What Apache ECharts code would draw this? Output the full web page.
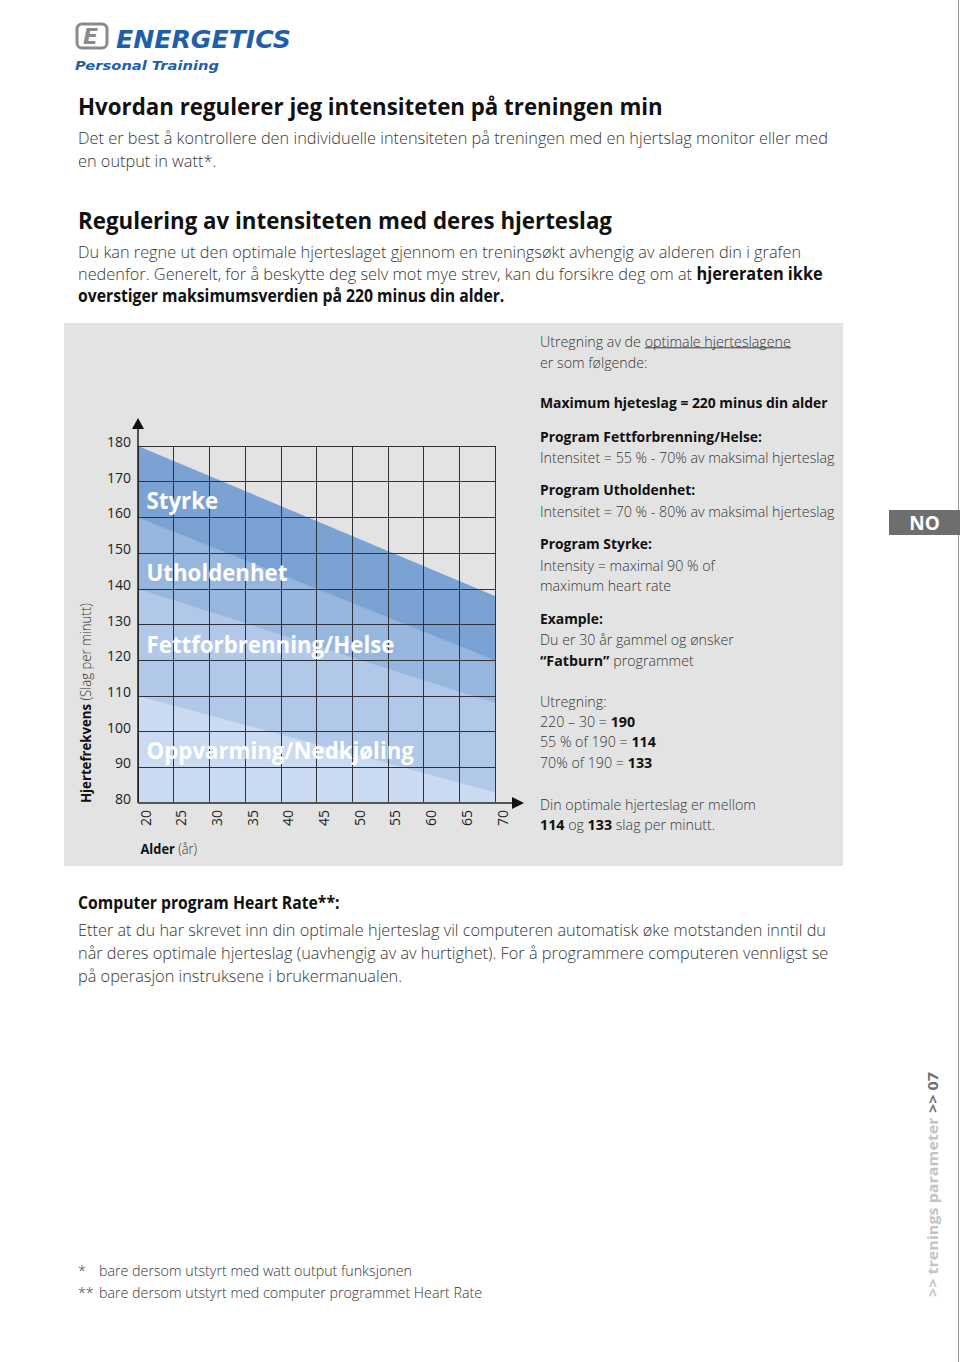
<!DOCTYPE html>
<html><head><meta charset="utf-8">
<script src="https://cdn.jsdelivr.net/npm/echarts@6/dist/echarts.min.js"></script>
<style>html,body{margin:0;padding:0;background:#fff;} #c{width:960px;height:1362px;}</style>
</head><body><div id="c"></div>
<script>
// ---------------- DATA ----------------
const ages = [20, 70];                 // x positions of the zone boundary lines
const styrkeTop = [180, 138];          // upper edge of Styrke zone
const utholdenhetTop = [160, 120];     // upper edge of Utholdenhet zone
const fettTop = [140, 108];            // upper edge of Fettforbrenning/Helse zone
const oppvarmingTop = [110, 83];       // upper edge of Oppvarming/Nedkjøling zone
const zoneNames = ['Styrke', 'Utholdenhet', 'Fettforbrenning/Helse', 'Oppvarming/Nedkjøling'];
const zoneLabelPos = [[21.2, 164.8], [21.2, 144.5], [21.2, 124.5], [21.2, 94.8]];
const xTickLabels = ['20','25','30','35','40','45','50','55','60','65','70'];
const yTickLabels = ['80','90','100','110','120','130','140','150','160','170','180'];

// ---------------- STYLES ----------------
const ST = {
  h:    {family:'"Open Sans"', weight:700, size:23, fill:'#111'},
  body: {family:'"Open Sans"', weight:300, size:17, fill:'#363636'},
  bodyB:{family:'"Open Sans"', weight:700, size:17, fill:'#111'},
  side: {family:'"Open Sans"', weight:300, size:15, fill:'#363636'},
  sideB:{family:'"Open Sans"', weight:700, size:15, fill:'#111'},
  zone: {family:'"Open Sans"', weight:700, size:23, fill:'#ffffff'},
  logo: {family:'"DejaVu Sans"', weight:700, size:25, fill:'#1d5fab', style:'oblique'},
  pt:   {family:'"DejaVu Sans"', weight:700, size:13, fill:'#1d5fab', style:'oblique'},
  ic:   {family:'"DejaVu Sans"', weight:700, size:22, fill:'#8a8a8a', style:'oblique'},
  vtL:  {family:'"Open Sans"', weight:700, size:15, fill:'#c4c4c4'},
  vtD:  {family:'"Open Sans"', weight:700, size:15, fill:'#6f6f6f'},
  ax:   {family:'"Open Sans"', weight:300, size:15, fill:'#333'},
  axB:  {family:'"Open Sans"', weight:700, size:15, fill:'#111'},
  no:   {family:'"Open Sans"', weight:700, size:19, fill:'#ffffff'}
};
const cv = document.createElement('canvas').getContext('2d');
function fontStr(st){ return (st.style||'normal') + ' ' + st.weight + ' ' + st.size + 'px ' + st.family; }
function measure(str, st){ cv.font = fontStr(st); return cv.measureText(str).width; }
function fit(str, st, w){ return w / measure(str, st); }

// horizontal text: x = left, base = baseline
function T(x, base, parts, baseKey, scale, extra){
  const rich = {}; let text = '';
  parts.forEach(([k, s]) => {
    const st = ST[k];
    rich[k] = {fontFamily:st.family, fontWeight:st.weight, fontSize:st.size, fill:st.fill, fontStyle:st.style||'normal'};
    text += '{' + k + '|' + s + '}';
  });
  const bs = ST[baseKey];
  const el = {type:'text', x:x, y:base - bs.size*0.32, scaleX:scale, z:100, silent:true,
    style:{x:0, y:0, text:text, rich:rich, align:'left', verticalAlign:'middle',
      fontSize:bs.size, fontFamily:bs.family, fontWeight:bs.weight, fill:bs.fill}};
  return Object.assign(el, extra||{});
}
// vertical text reading bottom-to-top: cx = centre x, y0 = start (bottom)
function TV(cx, y0, parts, baseKey, scale){
  const el = T(0, 0, parts, baseKey, scale, {rotation:Math.PI/2});
  el.x = cx; el.y = y0;
  return el;
}

// ---------------- CHART ----------------
const chart = echarts.init(document.getElementById('c'), null, {renderer:'svg', width:960, height:1362});
const xv = xTickLabels.map(Number), yv = yTickLabels.map(Number);
const bandTops = [styrkeTop, utholdenhetTop, fettTop, oppvarmingTop];
const bandColors = ['#7aa3d4', '#96b6de', '#b1c8e8', '#cadaf0'];

chart.setOption({
  animation:false,
  backgroundColor:'#ffffff',
  grid:{left:138, top:446, width:357, height:357},
  xAxis:{type:'value', min:xv[0], max:xv[xv.length-1], interval:xv[1]-xv[0], z:10,
    axisLine:{show:false}, axisTick:{show:false},
    splitLine:{show:true, lineStyle:{color:'#2e333b', width:1}},
    axisLabel:{rotate:90, margin:7, fontSize:14, color:'#222', fontFamily:'"Open Sans"', verticalAlign:'top',
      formatter: v => xTickLabels[xv.indexOf(v)] || ''}},
  yAxis:{type:'value', min:yv[0], max:yv[yv.length-1], interval:yv[1]-yv[0], z:10,
    axisLine:{show:false}, axisTick:{show:false},
    splitLine:{show:true, lineStyle:{color:'#2e333b', width:1}},
    axisLabel:{margin:7, fontSize:14, color:'#222', fontFamily:'"Open Sans"', verticalAlign:'bottom', lineHeight:9,
      formatter: v => yTickLabels[yv.indexOf(v)] || ''}},
  series: bandTops.map((top, i) => ({
    type:'line', name:zoneNames[i], silent:true, symbol:'none', z:2+i,
    data: ages.map((a, k) => [a, top[k]]),
    lineStyle:{width:0}, areaStyle:{color:bandColors[i], opacity:1, origin:'start'}
  }))
});

// ---------------- PAGE GRAPHICS ----------------
const P = (x, y) => chart.convertToPixel({gridIndex:0}, [x, y]);
const o = P(xv[0], yv[0]), tp = P(xv[0], yv[yv.length-1]), rt = P(xv[xv.length-1], yv[0]);

const sH = fit('Hvordan regulerer jeg intensiteten på treningen min', ST.h, 585);
const L1 = 'Det er best å kontrollere den individuelle intensiteten på treningen med en hjertslag monitor eller med';
const sBody = fit(L1, ST.body, 750);
const sBodyB = fit('overstiger maksimumsverdien på 220 minus din alder.', ST.bodyB, 427);
const sSide = fit('Intensitet = 55 % - 70% av maksimal hjerteslag', ST.side, 295);
const sSideB = fit('Maximum hjeteslag = 220 minus din alder', ST.sideB, 288);
const sFoot = fit('bare dersom utstyrt med watt output funksjonen', ST.side, 313);
const sZone = fit('Fettforbrenning/Helse', ST.zone, 248);
const sLogo = fit('ENERGETICS', ST.logo, 175);
const sPT = fit('Personal Training', ST.pt, 144);
const sVT = fit('>> trenings parameter >> 07', ST.vtD, 225);
const sAx = fit('Alder (år)', ST.axB, 60);
const sYN = fit('Hjertefrekvens (Slag per minutt)', ST.axB, 213);

const G = [];
// panel
G.push({type:'rect', z:-100, silent:true, shape:{x:64, y:323, width:779, height:543}, style:{fill:'#e3e3e3'}});
// right page border
G.push({type:'line', z:100, silent:true, shape:{x1:958.5, y1:0, x2:958.5, y2:1362}, style:{stroke:'#9a9a9a', lineWidth:1}});
// logo
G.push({type:'rect', z:100, silent:true, shape:{x:77, y:24, width:30, height:24, r:5}, style:{fill:'none', stroke:'#8a8a8a', lineWidth:3}});
G.push(T(83, 44, [['ic','E']], 'ic', 1));
G.push(T(116, 48, [['logo','ENERGETICS']], 'logo', sLogo));
G.push(T(75, 69.3, [['pt','Personal Training']], 'pt', sPT));
// headings and paragraphs
G.push(T(78, 113.3, [['h','Hvordan regulerer jeg intensiteten på treningen min']], 'h', sH));
G.push(T(78, 143.3, [['body', L1]], 'body', sBody));
G.push(T(78, 165.5, [['body','en output in watt*.']], 'body', sBody));
G.push(T(78, 227.5, [['h','Regulering av intensiteten med deres hjerteslag']], 'h', sH));
G.push(T(78, 256.5, [['body','Du kan regne ut den optimale hjerteslaget gjennom en treningsøkt avhengig av alderen din i grafen']], 'body', sBody));
G.push(T(78, 279, [['body','nedenfor. Generelt, for å beskytte deg selv mot mye strev, kan du forsikre deg om at '],['bodyB','hjereraten ikke']], 'body', sBody));
G.push(T(78, 301, [['bodyB','overstiger maksimumsverdien på 220 minus din alder.']], 'bodyB', sBodyB));
// right column of the panel
const RX = 540;
const pre = 'Utregning av de ', und = 'optimale hjerteslagene';
G.push(T(RX, 345.7, [['side', pre], ['side', und]], 'side', sSide));
{
  const u0 = RX + measure(pre, ST.side)*sSide, u1 = u0 + measure(und, ST.side)*sSide;
  G.push({type:'line', z:100, silent:true, shape:{x1:u0, y1:347.8, x2:u1, y2:347.8}, style:{stroke:'#3a3a3a', lineWidth:1}});
}
G.push(T(RX, 366.7, [['side','er som følgende:']], 'side', sSide));
G.push(T(RX, 407.3, [['sideB','Maximum hjeteslag = 220 minus din alder']], 'sideB', sSideB));
G.push(T(RX, 440.7, [['sideB','Program Fettforbrenning/Helse:']], 'sideB', sSideB));
G.push(T(RX, 461.7, [['side','Intensitet = 55 % - 70% av maksimal hjerteslag']], 'side', sSide));
G.push(T(RX, 494.3, [['sideB','Program Utholdenhet:']], 'sideB', sSideB));
G.push(T(RX, 515.7, [['side','Intensitet = 70 % - 80% av maksimal hjerteslag']], 'side', sSide));
G.push(T(RX, 548.3, [['sideB','Program Styrke:']], 'sideB', sSideB));
G.push(T(RX, 569.3, [['side','Intensity = maximal 90 % of']], 'side', sSide));
G.push(T(RX, 590, [['side','maximum heart rate']], 'side', sSide));
G.push(T(RX, 622.7, [['sideB','Example:']], 'sideB', sSideB));
G.push(T(RX, 644, [['side','Du er 30 år gammel og ønsker']], 'side', sSide));
G.push(T(RX, 664.5, [['sideB','“Fatburn”'],['side',' programmet']], 'side', sSide));
G.push(T(RX, 705.3, [['side','Utregning:']], 'side', sSide));
G.push(T(RX, 725.7, [['side','220 – 30 = '],['sideB','190']], 'side', sSide));
G.push(T(RX, 745.9, [['side','55 % of 190 = '],['sideB','114']], 'side', sSide));
G.push(T(RX, 766.2, [['side','70% of 190 = '],['sideB','133']], 'side', sSide));
G.push(T(RX, 808.3, [['side','Din optimale hjerteslag er mellom']], 'side', sSide));
G.push(T(RX, 828.6, [['sideB','114'],['side',' og '],['sideB','133'],['side',' slag per minutt.']], 'side', sSide));
// NO tab
G.push({type:'rect', z:100, silent:true, shape:{x:889, y:510, width:71, height:25}, style:{fill:'#6e6e6e'}});
G.push({type:'text', z:101, silent:true, x:924.5, y:523, style:{x:0, y:0, text:'NO', align:'center', verticalAlign:'middle',
  fontFamily:ST.no.family, fontWeight:700, fontSize:19, fill:'#fff'}});
// below panel
G.push(T(78, 908, [['bodyB','Computer program Heart Rate**:']], 'bodyB', sBodyB));
G.push(T(78, 935, [['body','Etter at du har skrevet inn din optimale hjerteslag vil computeren automatisk øke motstanden inntil du']], 'body', sBody));
G.push(T(78, 958, [['body','når deres optimale hjerteslag (uavhengig av av hurtighet). For å programmere computeren vennligst se']], 'body', sBody));
G.push(T(78, 980.5, [['body','på operasjon instruksene i brukermanualen.']], 'body', sBody));
// footnotes
G.push(T(78, 1275, [['side','*']], 'side', sFoot));
G.push(T(99, 1275, [['side','bare dersom utstyrt med watt output funksjonen']], 'side', sFoot));
G.push(T(78, 1297, [['side','**']], 'side', sFoot));
G.push(T(99, 1297, [['side','bare dersom utstyrt med computer programmet Heart Rate']], 'side', sFoot));
// vertical side text
G.push(TV(932.5, 1297, [['vtL','>> trenings parameter '],['vtD','>> 07']], 'vtD', sVT));
// axis names
G.push(TV(85.5, 803, [['axB','Hjertefrekvens'],['ax',' (Slag per minutt)']], 'axB', sYN));
G.push(T(140.5, 853.3, [['axB','Alder'],['ax',' (år)']], 'axB', sAx));
// axis lines + arrows
G.push({type:'line', z:50, silent:true, shape:{x1:o[0], y1:o[1], x2:o[0], y2:tp[1]-18}, style:{stroke:'#222', lineWidth:1.5}});
G.push({type:'polygon', z:50, silent:true, shape:{points:[[o[0], tp[1]-28], [o[0]-6, tp[1]-17], [o[0]+6, tp[1]-17]]}, style:{fill:'#111'}});
G.push({type:'line', z:50, silent:true, shape:{x1:o[0], y1:o[1], x2:rt[0]+18, y2:o[1]}, style:{stroke:'#555', lineWidth:2}});
G.push({type:'polygon', z:50, silent:true, shape:{points:[[rt[0]+29, o[1]], [rt[0]+17, o[1]-6], [rt[0]+17, o[1]+6]]}, style:{fill:'#111'}});
// zone labels
zoneNames.forEach((n, i) => {
  const p = P(zoneLabelPos[i][0], zoneLabelPos[i][1]);
  G.push(T(p[0], p[1] + ST.zone.size*0.32, [['zone', n]], 'zone', sZone));
});

chart.setOption({graphic:{elements:G}});
</script>
</body></html>
